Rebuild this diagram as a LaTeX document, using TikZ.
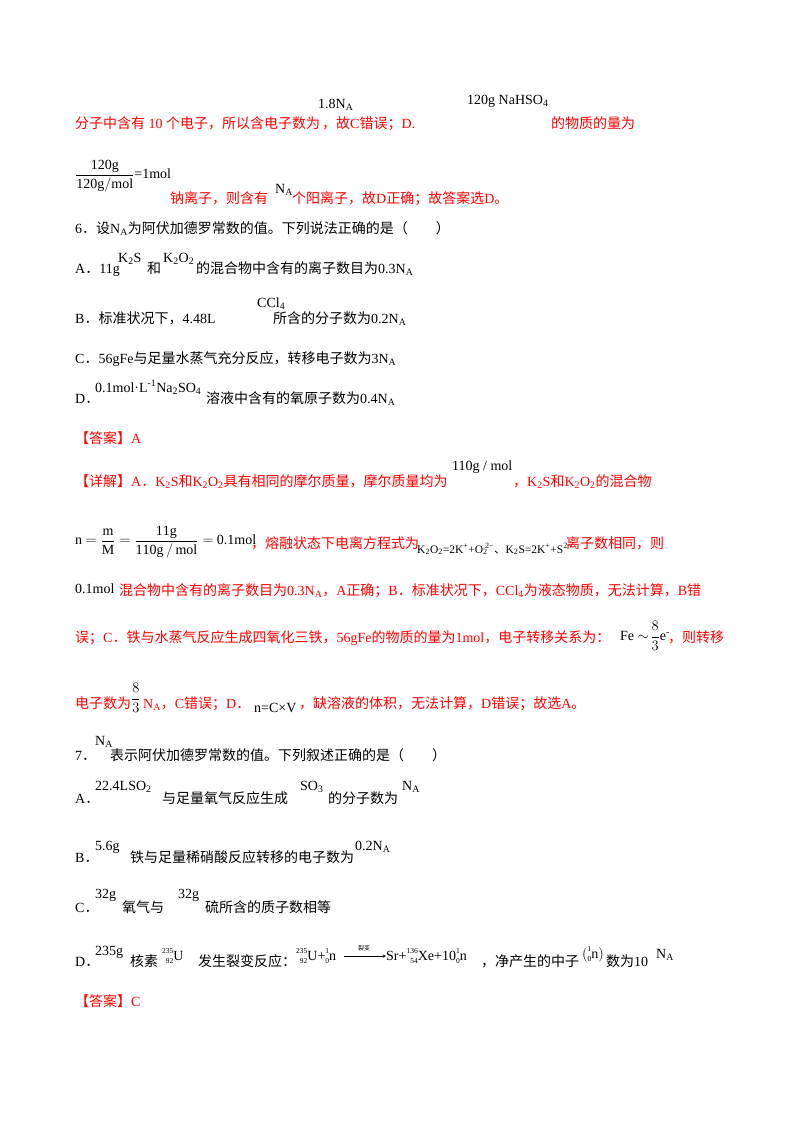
\documentclass[tikz,border=0pt]{standalone}
\usepackage{fontspec}
\setmainfont{Liberation Serif}
\newfontfamily\cjk{Noto Sans CJK SC}
\XeTeXinterchartokenstate=1
\newXeTeXintercharclass\CJKcls
\count255="4E00 \loop \XeTeXcharclass\count255=\CJKcls \advance\count255 by1 \ifnum\count255<"9FFF\repeat
\count255="3000 \loop \XeTeXcharclass\count255=\CJKcls \advance\count255 by1 \ifnum\count255<"3040\repeat
\count255="FF00 \loop \XeTeXcharclass\count255=\CJKcls \advance\count255 by1 \ifnum\count255<"FF60\repeat
\XeTeXinterchartoks 0 \CJKcls = {\cjk}
\XeTeXinterchartoks 4095 \CJKcls = {\cjk}
\XeTeXinterchartoks \CJKcls 0 = {\rmfamily}
\XeTeXinterchartoks \CJKcls 4095 = {\rmfamily}
\newcommand\sbA{\textsubscript{A}}
\newcommand\iso[2]{\setbox0\hbox{\fontsize{7.5}{8}\selectfont#1}\setbox2\hbox{\fontsize{7.5}{8}\selectfont#2}\ifdim\wd0>\wd2 \dimen0=\wd0\else\dimen0=\wd2\fi\hbox to\dimen0{\hfil\raisebox{1ex}{\box0}}\kern-\dimen0\hbox to\dimen0{\hfil\raisebox{-.5ex}{\box2}}}
\tikzset{k/.style={anchor=base west,inner sep=0pt,font=\fontsize{14}{16}\selectfont},
 r/.style={k,text=red},
 f/.style={k,font=\fontsize{14}{16}\selectfont}}
\begin{document}
\begin{tikzpicture}[x=1pt,y=-1pt]
\useasboundingbox (0,0) rectangle (800,1132);
\node[r] (l1a) at (75,128) {分子中含有 10 个电子，所以含电子数为};
\node[f] (l1b) at (318,108) {1.8N\sbA};
\node[r] (l1c) at (322,128) {，故C错误；D.};
\node[f] (l1d) at (467,104) {120g NaHSO\textsubscript{4}};
\node[r] (l1e) at (551,128) {的物质的量为};
\node[f,anchor=west] (l2a) at (75,176) {$\displaystyle\frac{\mathrm{120g}}{\mathrm{120g/mol}}$=1mol};
\node[r] (l2b) at (170,203) {钠离子，则含有};
\node[f] (l2c) at (275,193) {N\sbA};
\node[r] (l2d) at (292,203) {个阳离子，故D正确；故答案选D。};
\node[k] (q6) at (75,233) {6．设N\sbA 为阿伏加德罗常数的值。下列说法正确的是（　　）};
\node[k] (a1) at (75,273) {A．11g};
\node[f] (a2) at (118,262) {K\textsubscript{2}S};
\node[k] (a3) at (147,273) {和};
\node[f] (a4) at (163,262) {K\textsubscript{2}O\textsubscript{2}};
\node[k] (a5) at (196,273) {的混合物中含有的离子数目为0.3N\sbA};
\node[k] (b1) at (75,323) {B．标准状况下，4.48L};
\node[f] (b2) at (257,307) {CCl\textsubscript{4}};
\node[k] (b3) at (273,323) {所含的分子数为0.2N\sbA};
\node[k] (c1) at (75,363) {C．56gFe与足量水蒸气充分反应，转移电子数为3N\sbA};
\node[k] (d1) at (75,403) {D．};
\node[f] (d2) at (95,392) {0.1mol·L\textsuperscript{-1}Na\textsubscript{2}SO\textsubscript{4}};
\node[k] (d3) at (206,403) {溶液中含有的氧原子数为0.4N\sbA};
\node[r] (ans1) at (75,443) {【答案】A};
\node[r] (e1) at (75,486) {【详解】A．K\textsubscript{2}S和K\textsubscript{2}O\textsubscript{2}具有相同的摩尔质量，摩尔质量均为};
\node[f] (e2) at (452,470) {110g / mol};
\node[r] (e3) at (513,486) {，K\textsubscript{2}S和K\textsubscript{2}O\textsubscript{2}的混合物};
\node[f,anchor=west] (g1) at (75,542) {n $=\displaystyle\frac{\mathrm{m}}{\mathrm{M}}=\frac{\mathrm{11g}}{\mathrm{110g\,/\,mol}}=$ 0.1mol};
\node[r] (g2) at (251,548) {，熔融状态下电离方程式为};
\node[f,font=\fontsize{11.5}{14}\selectfont] (g3) at (417,553) {K\textsubscript{2}O\textsubscript{2}=2K\textsuperscript{+}+O\textsubscript{2}\kern-.5ex\textsuperscript{2−}、K\textsubscript{2}S=2K\textsuperscript{+}+S\textsuperscript{2−}};
\node[r] (g4) at (566,548) {离子数相同，则};
\node[f] (h1) at (75,593) {0.1mol};
\node[r] (h2) at (119,595) {混合物中含有的离子数目为0.3N\sbA，A正确；B．标准状况下，CCl\textsubscript{4}为液态物质，无法计算，B错};
\node[r] (i1) at (75,642) {误；C．铁与水蒸气反应生成四氧化三铁，56gFe的物质的量为1mol，电子转移关系为：};
\node[f,anchor=west] (i2) at (620,636) {Fe $\sim\!\displaystyle\frac{8}{3}$e\textsuperscript{-}};
\node[r] (i3) at (668,642) {，则转移};
\node[r] (j1) at (75,708) {电子数为};
\node[f,anchor=west] (j2) at (131,698) {$\displaystyle\frac{8}{3}$};
\node[r] (j3) at (143,708) {N\sbA，C错误；D．};
\node[f] (j4) at (254,712) {n=C×V};
\node[r] (j5) at (299,708) {，缺溶液的体积，无法计算，D错误；故选A。};
\node[k] (q7a) at (75,760) {7．};
\node[f] (q7b) at (95,745) {N\sbA};
\node[k] (q7c) at (110,760) {表示阿伏加德罗常数的值。下列叙述正确的是（　　）};
\node[k] (s1) at (75,803) {A．};
\node[f] (s2) at (95,790) {22.4LSO\textsubscript{2}};
\node[k] (s3) at (162,803) {与足量氧气反应生成};
\node[f] (s4) at (300,790) {SO\textsubscript{3}};
\node[k] (s5) at (328,803) {的分子数为};
\node[f] (s6) at (402,790) {N\sbA};
\node[k] (t1) at (75,862) {B．};
\node[f] (t2) at (95,850) {5.6g};
\node[k] (t3) at (130,862) {铁与足量稀硝酸反应转移的电子数为};
\node[f] (t4) at (355,850) {0.2N\sbA};
\node[k] (u1) at (75,912) {C．};
\node[f] (u2) at (95,898) {32g};
\node[k] (u3) at (122,912) {氧气与};
\node[f] (u4) at (178,898) {32g};
\node[k] (u5) at (205,912) {硫所含的质子数相等};
\node[k] (v1) at (75,966) {D．};
\node[f] (v2) at (95,955) {235g};
\node[k] (v3) at (130,966) {核素};
\node[f] (v4) at (162,960) {\iso{235}{92}U};
\node[k] (v5) at (198,966) {发生裂变反应：};
\node[f] (v6) at (296,960) {\iso{235}{92}U+\iso{1}{0}n};
\node[font=\fontsize{6}{7}\selectfont\cjk,inner sep=0pt,anchor=south] (v7) at (364,951) {裂变};
\coordinate (v8a) at (344,956);
\coordinate (v8b) at (386,956);
\draw[->,>=stealth,line width=.5pt] (v8a) -- (v8b);
\node[f] (v9) at (386,960) {Sr+\iso{136}{54}Xe+10\iso{1}{0}n};
\node[k] (v10) at (481,966) {，净产生的中子};
\node[f] (v11) at (582,958) {$\Big($\iso{1}{0}n$\Big)$};
\node[k] (v12) at (606,966) {数为10};
\node[f] (v13) at (656,958) {N\sbA};
\node[r] (ans2) at (75,1006) {【答案】C};
\end{tikzpicture}
\end{document}
